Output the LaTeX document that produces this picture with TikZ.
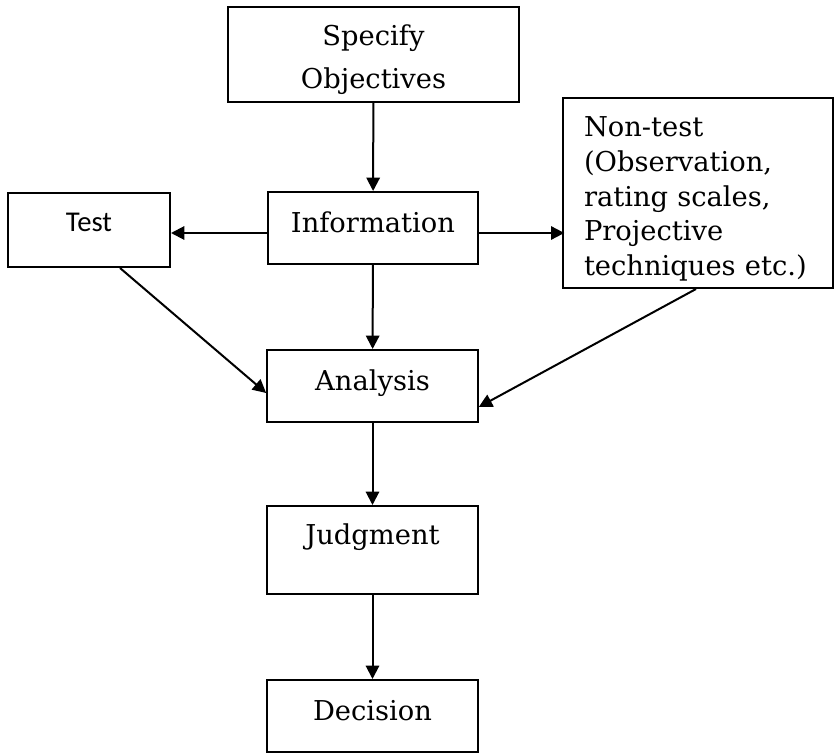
\documentclass[tikz,border=0pt]{standalone}
\usepackage{fontspec}
\setmainfont{DejaVu Serif}
\newfontfamily\testfont{Carlito}
\usetikzlibrary{arrows.meta, calc}

\begin{document}
\begin{tikzpicture}[x=0.75pt, y=-0.75pt, line width=1.5pt,
    >={Triangle[length=10pt, width=10pt]},
    every node/.style={font=\fontsize{20.5}{26}\selectfont},
    box/.style={draw, inner sep=0pt, minimum width=158pt, minimum height=54pt},
    strut/.style={text height=15.4pt, text depth=8.2pt}]
    \useasboundingbox (0, 0) rectangle (836, 753);
    \node [box, minimum width=218pt, minimum height=71pt, align=center,
      font=\fontsize{20.5}{32}\selectfont] (obj) at (373.5, 54.5) {\rule{0pt}{23pt}Specify\\Objectives};
    \node [box, strut] (info) at (373, 228) {Information};
    \node [box, strut, minimum width=121.5pt, minimum height=55.5pt,
      font=\testfont\fontsize{21.5}{26}\selectfont, text depth=13pt] (test) at (89, 230) {Test};
    \node [box, minimum width=202.5pt, minimum height=142.5pt, inner xsep=15.75pt,
      text width=171pt, align=left] (nontest) at (698, 193)
      {\rule{0pt}{24pt}Non-test\\(Observation,\\rating scales,\\Projective\\techniques etc.)};
    \node [box, strut] (ana) at (372.5, 386) {Analysis};
    \node [box, strut, minimum height=66pt, text depth=23pt] (judg) at (372.5, 550) {Judgment};
    \node [box, strut] (dec) at (372.5, 716) {Decision};
    \draw [->] (obj) to (info);
    \draw [->] ($(info.west)+(0, 5)$) to ($(test.east)+(0, 3)$);
    \draw [->] ($(info.east)+(0, 5)$) to ($(info.east)+(85, 5)$);
    \draw [->] (info) to (ana);
    \draw [->] ($(test.south)+(31, 0)$) to ($(ana.west)+(0, 7)$);
    \draw [->] ($(nontest.south)+(-2, 0)$) to ($(ana.east)+(0, 21)$);
    \draw [->] (ana) to (judg);
    \draw [->] (judg) to (dec);
  \end{tikzpicture}
\end{document}
